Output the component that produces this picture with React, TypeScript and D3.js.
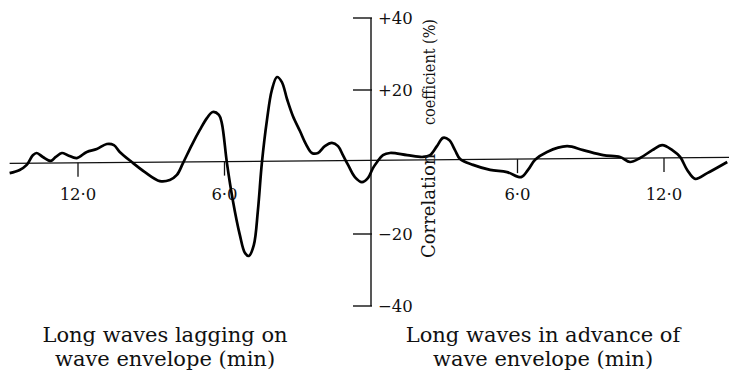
import React, { useEffect, useRef } from "react";
import * as d3 from "d3";

// lag in minutes (negative = long waves lagging, positive = in advance)
const lagMinutes = [
  -14.8, -14.39, -14.1, -13.85, -13.69, -13.44, -13.11, -12.91, -12.66, -12.42,
  -12.05, -11.64, -11.23, -10.82, -10.53, -10.29, -9.8, -9.26, -8.65, -8.24,
  -7.95, -7.7, -7.34, -7.01, -6.72, -6.48, -6.23, -6.11, -5.9, -5.66,
  -5.37, -5.16, -5.0, -4.8, -4.63, -4.47, -4.26, -4.06, -3.85, -3.65,
  -3.44, -3.2, -2.91, -2.66, -2.42, -2.17, -1.89, -1.6, -1.35, -1.15,
  -0.94, -0.66, -0.37, -0.12, 0.08, 0.25, 0.49, 0.78, 1.48, 2.13,
  2.42, 2.7, 2.95, 3.2, 3.44, 3.65, 4.18, 4.88, 5.57, 6.15,
  6.43, 6.72, 7.21, 8.03, 8.69, 9.51, 10.2, 10.61, 11.02, 11.52,
  11.93, 12.34, 12.66, 12.95, 13.28, 13.77, 14.59,
];

// correlation coefficient (%)
const correlation = [
  -3.1, -2.2, -0.8, 1.9, 2.5, 1.4, 0.3, 1.4, 2.5, 1.9,
  1.1, 2.8, 3.6, 5.0, 4.7, 2.8, 0, -2.8, -5.3, -5.0,
  -3.6, -0.3, 4.7, 8.9, 12.2, 13.9, 13.1, 10.8, -0.3, -10.6,
  -20.3, -25.3, -26.1, -23.1, -13.3, -0.3, 11.7, 20.0, 23.6, 22.2,
  17.5, 12.8, 8.6, 4.9, 2.5, 2.5, 4.4, 5.3, 4.4, 1.9,
  -0.8, -4.2, -5.6, -4.4, -1.7, 0, 1.9, 2.5, 1.9, 1.4,
  1.9, 4.4, 6.7, 6.1, 3.3, 0.8, -0.8, -2.2, -2.8, -4.2,
  -2.2, 0.6, 2.8, 4.4, 3.3, 1.9, 1.4, 0, 1.1, 3.3,
  4.7, 3.3, 1.4, -2.2, -4.7, -3.1, 0,
];

const yTicks = [40, 20, -20, -40];
const yTickLabels = ["+40", "+20", "\u221220", "\u221240"];
const xTicks = [-12, -6, 6, 12];
const xTickLabels = ["12\u00b70", "6\u00b70", "6\u00b70", "12\u00b70"];
const baselineLag = [-14.8, 14.75];
const baselineLevel = [-0.4, 1.3];

const W = 729;
const H = 373;
const font = "'DejaVu Serif', serif";

export default function App() {
  const ref = useRef<SVGSVGElement | null>(null);

  useEffect(() => {
    const svg = d3.select(ref.current);
    svg.selectAll("*").remove();

    const x = d3.scaleLinear().domain([-12, 12]).range([78, 664]);
    const y = d3.scaleLinear().domain([-40, 40]).range([306, 18]);

    // slightly tilted zero line
    svg
      .append("line")
      .attr("x1", x(baselineLag[0]))
      .attr("x2", x(baselineLag[1]))
      .attr("y1", y(baselineLevel[0]))
      .attr("y2", y(baselineLevel[1]))
      .attr("stroke", "#111")
      .attr("stroke-width", 1.3);

    // vertical axis at zero lag
    svg
      .append("line")
      .attr("x1", x(0))
      .attr("x2", x(0))
      .attr("y1", y(40))
      .attr("y2", y(-40))
      .attr("stroke", "#111")
      .attr("stroke-width", 1.4);

    const yg = svg.append("g");
    yTicks.forEach((t, i) => {
      yg.append("line")
        .attr("x1", x(0) - 18)
        .attr("x2", x(0) + 1)
        .attr("y1", y(t))
        .attr("y2", y(t))
        .attr("stroke", "#111")
        .attr("stroke-width", 1.4);
      yg.append("text")
        .attr("x", x(0) + 7)
        .attr("y", y(t))
        .attr("dy", "0.36em")
        .attr("font-family", font)
        .attr("font-size", 16.5)
        .attr("fill", "#111")
        .text(yTickLabels[i]);
    });

    const tilt = d3.scaleLinear().domain(baselineLag).range(baselineLevel);
    const xg = svg.append("g");
    xTicks.forEach((t, i) => {
      const by = y(tilt(t));
      xg.append("line")
        .attr("x1", x(t))
        .attr("x2", x(t))
        .attr("y1", by)
        .attr("y2", by + 14)
        .attr("stroke", "#111")
        .attr("stroke-width", 1.3);
      xg.append("text")
        .attr("x", x(t))
        .attr("y", 200)
        .attr("text-anchor", "middle")
        .attr("font-family", font)
        .attr("font-size", 16.5)
        .attr("fill", "#111")
        .text(xTickLabels[i]);
    });

    const pts = lagMinutes.map((m, i) => [m, correlation[i]] as [number, number]);
    const line = d3
      .line<[number, number]>()
      .x((d) => x(d[0]))
      .y((d) => y(d[1]))
      .curve(d3.curveCatmullRom.alpha(0.5));

    svg
      .append("path")
      .datum(pts)
      .attr("d", line)
      .attr("fill", "none")
      .attr("stroke", "#000")
      .attr("stroke-width", 2.7)
      .attr("stroke-linejoin", "round");

    // rotated y label, split around the curve
    const ylab = svg.append("g").attr("font-family", font).attr("fill", "#111");
    ylab
      .append("text")
      .attr("transform", `translate(435,258) rotate(-90)`)
      .attr("font-size", 18)
      .text("Correlation");
    ylab
      .append("text")
      .attr("transform", `translate(435,125) rotate(-90)`)
      .attr("font-size", 17)
      .attr("textLength", 106)
      .attr("lengthAdjust", "spacingAndGlyphs")
      .text("coefficient (%)");

    const bottom = svg
      .append("g")
      .attr("font-family", font)
      .attr("font-size", 21)
      .attr("fill", "#111")
      .attr("text-anchor", "middle");
    bottom.append("text").attr("x", 165).attr("y", 342).text("Long waves lagging on");
    bottom.append("text").attr("x", 165).attr("y", 366).text("wave envelope (min)");
    bottom.append("text").attr("x", 543).attr("y", 342).text("Long waves in advance of");
    bottom.append("text").attr("x", 543).attr("y", 366).text("wave envelope (min)");
  }, []);

  return (
    <div style={{ position: "fixed", left: 0, top: 0, width: W, height: H, background: "#fff" }}>
      <svg ref={ref} width={W} height={H}></svg>
    </div>
  );
}
